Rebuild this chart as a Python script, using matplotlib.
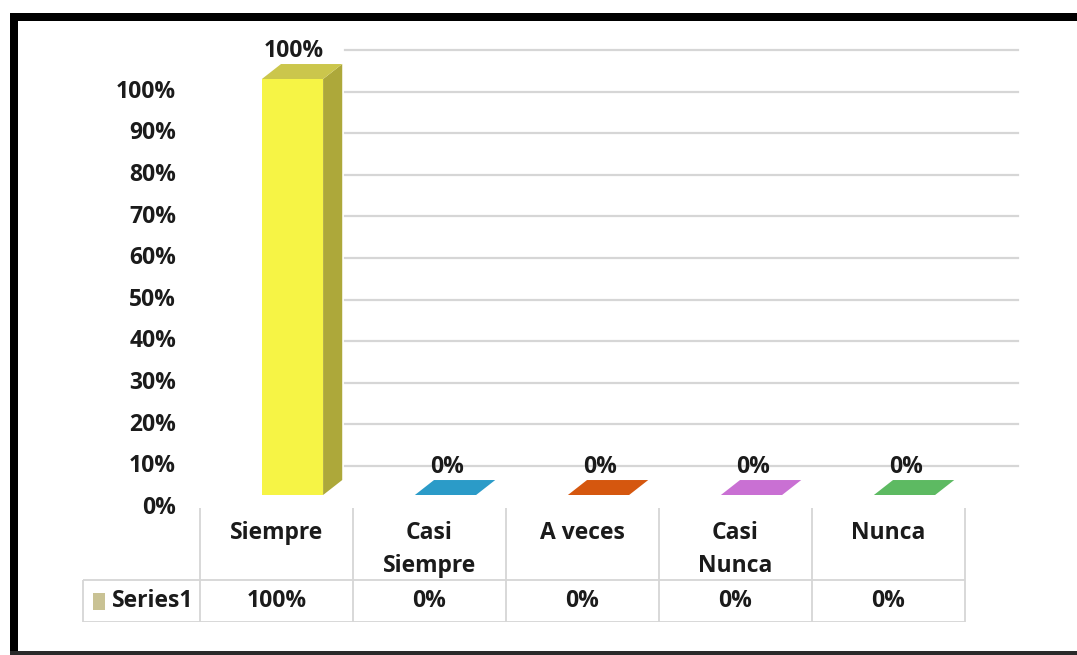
import matplotlib.pyplot as plt
from matplotlib.patches import Polygon, Rectangle

plt.rcParams['font.family'] = ['Open Sans', 'DejaVu Sans']

categorias = ['Siempre', 'Casi\nSiempre', 'A veces', 'Casi\nNunca', 'Nunca']
valores = [1.00, 0.00, 0.00, 0.00, 0.00]
colores = ['#F6F445', '#2B9BC8', '#D5570F', '#C970D3', '#5DBA62']
colores_lado = ['#ADA83A', '#1F7296', '#9C400B', '#93519A', '#438848']
colores_tapa = ['#CBC64C', '#2B9BC8', '#D5570F', '#C970D3', '#5DBA62']
serie = 'Series1'
marcas_y = [0.0, 0.1, 0.2, 0.3, 0.4, 0.5, 0.6, 0.7, 0.8, 0.9, 1.0]

W, H = 1077, 655
TEXTO = '#1b1b1b'
LINEA = '#D6D6D6'

fig = plt.figure(figsize=(W / 100, H / 100), dpi=100)
fig.patch.set_facecolor('white')


def caja(x0, y0, x1, y1):
    # pixel box (top-left origin) -> figure fraction rect
    return [x0 / W, 1 - y1 / H, (x1 - x0) / W, (y1 - y0) / H]


# plot area: one x unit per category, y in fraction of total
ax = fig.add_axes(caja(20, 40, 1060, 500))
ax.set_xlim((20 - 292.5) / 153, (1060 - 292.5) / 153)
ax.set_ylim((495 - 500) / 416, (495 - 40) / 416)
ax.axis('off')

ancho = 0.4
dx, dy = 0.125, 0.036        # bar depth
pared = 0.0697               # back wall is pushed up by the floor depth

for v in marcas_y:
    ax.plot([0.343, 4.742], [v + pared, v + pared], color=LINEA, lw=1.6, zorder=1)
    ax.text(-0.761, v - 0.031, f'{v:.0%}', ha='right', va='center',
            fontsize=16.5, fontweight='bold', color=TEXTO)

for i, v in enumerate(valores):
    izq, der = i - ancho / 2, i + ancho / 2
    ax.add_patch(Rectangle((izq, 0), ancho, v, facecolor=colores[i], edgecolor='none', zorder=3))
    ax.add_patch(Polygon([(der, 0), (der + dx, dy), (der + dx, v + dy), (der, v)],
                         facecolor=colores_lado[i], edgecolor='none', zorder=3))
    ax.add_patch(Polygon([(izq, v), (der, v), (der + dx, v + dy), (izq + dx, v + dy)],
                         facecolor=colores_tapa[i], edgecolor='none', zorder=4))
    ax.text(i + 0.01, v + 0.068, f'{v:.0%}', ha='center', va='center',
            fontsize=16.5, fontweight='bold', color=TEXTO, zorder=5)

# data table under the chart
tb = fig.add_axes(caja(20, 508, 1060, 622))
tb.set_xlim(ax.get_xlim())
tb.set_ylim(0, 1)
tb.axis('off')

corte = 0.368
bordes = [i - 0.605 for i in range(len(categorias) + 1)]
tb.vlines(bordes, 0, 1, color=LINEA, lw=1.3)
tb.vlines(-1.369, 0, corte, color=LINEA, lw=1.3)
tb.hlines([0, corte], -1.369, bordes[-1], color=LINEA, lw=1.3)

for i, (cat, v) in enumerate(zip(categorias, valores)):
    for k, linea in enumerate(cat.split('\n')):
        tb.text(i - 0.105, 0.78 - 0.29 * k, linea, ha='center', va='center',
                fontsize=16.5, fontweight='bold', color=TEXTO)
    tb.text(i - 0.105, 0.184, f'{v:.0%}', ha='center', va='center',
            fontsize=16.5, fontweight='bold', color=TEXTO)

tb.add_patch(Rectangle((-1.304, 0.105), 0.078, 0.149, facecolor='#C9C294', edgecolor='none'))
tb.text(-0.912, 0.184, serie, ha='center', va='center',
        fontsize=16.5, fontweight='bold', color=TEXTO)

# frame around the chart
fig.add_artist(Rectangle(caja(10, 13, W, 21)[:2], caja(10, 13, W, 21)[2], caja(10, 13, W, 21)[3],
                         transform=fig.transFigure, facecolor='black', edgecolor='none'))
fig.add_artist(Rectangle(caja(10, 13, 18, H)[:2], caja(10, 13, 18, H)[2], caja(10, 13, 18, H)[3],
                         transform=fig.transFigure, facecolor='black', edgecolor='none'))
fig.add_artist(Rectangle(caja(10, 651, W, H)[:2], caja(10, 651, W, H)[2], caja(10, 651, W, H)[3],
                         transform=fig.transFigure, facecolor='#2a2a2a', edgecolor='none'))

fig.savefig('out.png', dpi=100, facecolor='white')
